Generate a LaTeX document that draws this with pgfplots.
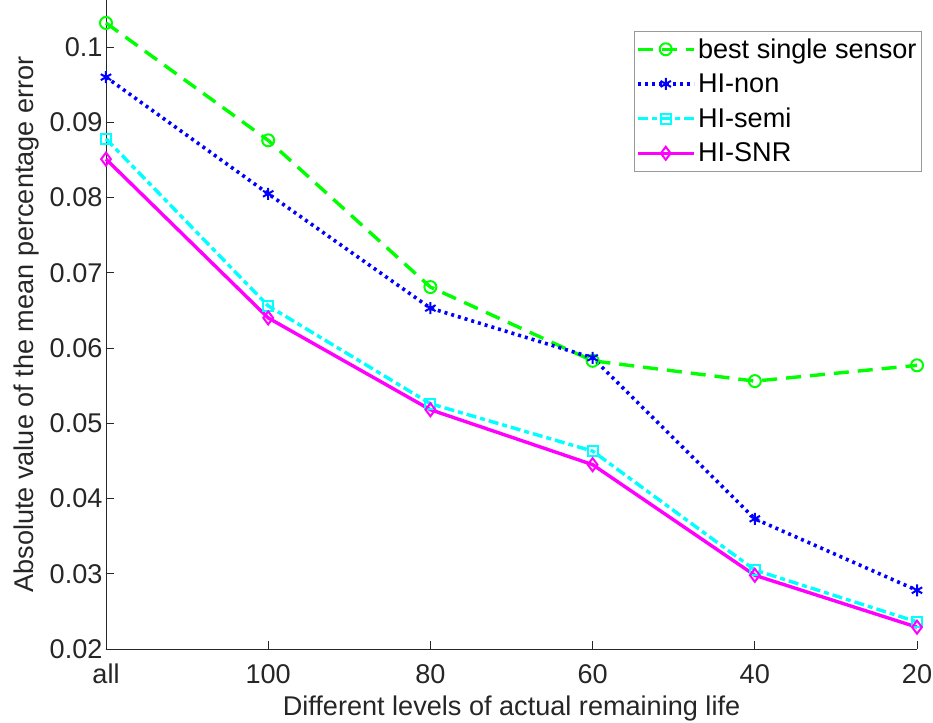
\documentclass[border=0pt]{standalone}
\usepackage{fontspec}
\setmainfont{Liberation Sans}
\usepackage{pgfplots}
\pgfplotsset{compat=1.18}
\definecolor{axgray}{RGB}{38,38,38}
\definecolor{mgreen}{RGB}{0,255,0}
\definecolor{mblue}{RGB}{0,0,255}
\definecolor{mcyan}{RGB}{0,255,255}
\definecolor{mmagenta}{RGB}{255,0,255}
\begin{document}
\begin{tikzpicture}[font=\fontsize{27.2}{32}\selectfont]
\path[use as bounding box] (-106bp,-74bp) rectangle (827bp,649bp);
\begin{axis}[
  at={(0,0)}, anchor=south west,
  scale only axis, width=811bp, height=649bp,
  xmin=0, xmax=5, ymin=0.02, ymax=0.10625,
  axis x line*=bottom, axis y line*=left,
  axis line style={color=axgray, line width=0.8bp, -},
  tick style={color=axgray, line width=0.8bp},
  tick align=inside, major tick length=8bp,
  xtick={0,1,2,3,4,5}, xticklabels={all,100,80,60,40,20},
  ytick={0.02,0.03,0.04,0.05,0.06,0.07,0.08,0.09,0.1},
  scaled y ticks=false,
  yticklabel style={/pgf/number format/fixed, /pgf/number format/precision=2, /pgf/number format/assume math mode=true, color=axgray},
  xticklabel style={anchor=base, yshift=-34bp, color=axgray},
  xlabel={Different levels of actual remaining life},
  ylabel={Absolute value of the mean percentage error},
  xlabel style={at={(rel axis cs:0.5,-0.1032)}, anchor=base, color=axgray},
  ylabel style={at={(rel axis cs:-0.0900,0.5)}, anchor=base, color=axgray},
  clip=false,
  legend cell align=left,
  legend style={at={(rel axis cs:0.6505,0.9525)}, anchor=north west,
    draw=gray!80, line width=0.8bp, fill=white,
    inner xsep=2bp, inner ysep=5bp, row sep=9bp,
    nodes={inner sep=2.5pt}, font=\fontsize{27.2}{32}\selectfont},
  legend image code/.code={
    \draw[mark repeat=2,mark phase=2,#1] plot coordinates {(0bp,0bp) (28bp,0bp) (56bp,0bp)};},
]
\addplot[color=mgreen, line width=3.4bp, dash pattern=on 15bp off 9bp,
  mark=o, mark size=6bp, mark options={solid, line width=2bp}]
  coordinates {(0,0.1032) (1,0.0876) (2,0.0681) (3,0.0583) (4,0.0556) (5,0.0577)};
\addlegendentry{best single sensor}
\addplot[color=mblue, line width=3.6bp, dash pattern=on 3bp off 4bp,
  mark=asterisk, mark size=6bp, mark options={solid, line width=2bp}]
  coordinates {(0,0.0960) (1,0.0805) (2,0.0653) (3,0.0587) (4,0.0373) (5,0.0278)};
\addlegendentry{HI-non}
\addplot[color=mcyan, line width=3.4bp, dash pattern=on 10bp off 4bp on 5bp off 4bp,
  mark=square, mark size=5bp, mark options={solid, line width=2bp}]
  coordinates {(0,0.0878) (1,0.0656) (2,0.0526) (3,0.0463) (4,0.0305) (5,0.0236)};
\addlegendentry{HI-semi}
\addplot[color=mmagenta, line width=3.4bp, solid,
  mark=diamond, mark size=6.5bp, mark options={solid, line width=2bp}]
  coordinates {(0,0.0851) (1,0.0640) (2,0.0518) (3,0.0445) (4,0.0298) (5,0.0229)};
\addlegendentry{HI-SNR}
\end{axis}
\end{tikzpicture}
\end{document}
